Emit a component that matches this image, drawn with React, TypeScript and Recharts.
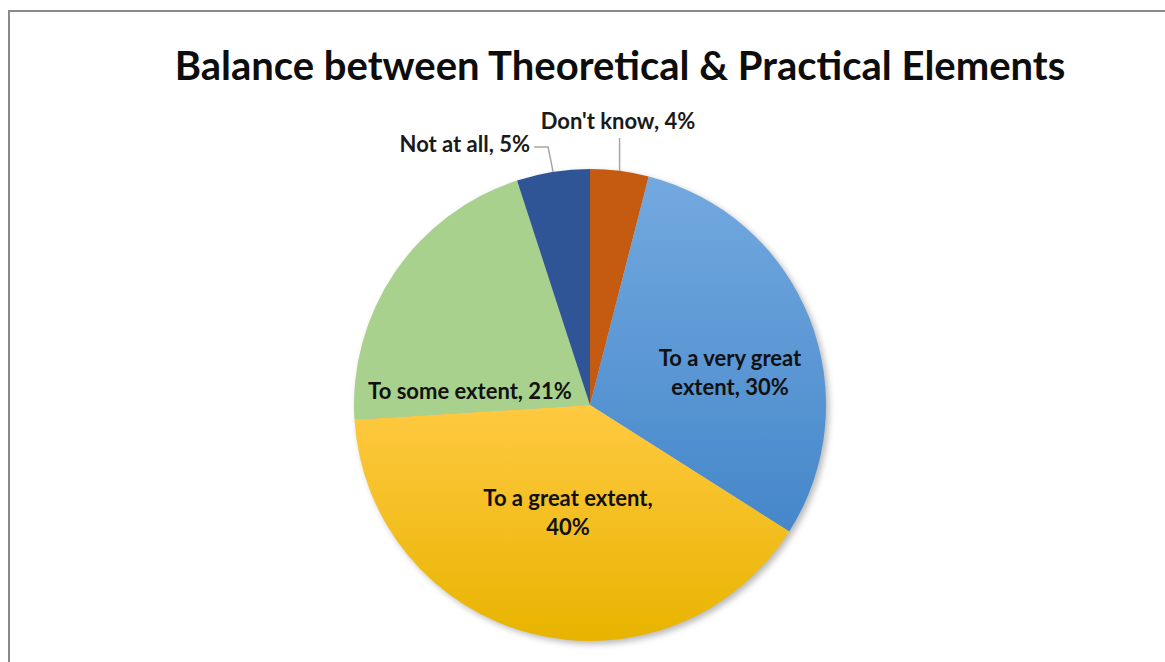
import React from 'react';
import { PieChart, Pie, Cell } from 'recharts';

// Survey answers, clockwise from 12 o'clock
const categories = [
  "Don't know",
  'To a very great extent',
  'To a great extent',
  'To some extent',
  'Not at all',
];
const shares = [4, 30, 40, 21, 5];
const fills = ['#C55A11', 'url(#gradBlue)', 'url(#gradGold)', '#A9D18E', '#2F5597'];

const data = categories.map((name, i) => ({ name, value: shares[i] }));

// where each data label goes (offset from pie centre, px) and wrap width in chars
const labelLayout: Record<string, { dx: number; dy: number; wrap: number; outside?: 'up' | 'left' }> = {
  "Don't know": { dx: 28, dy: -285, wrap: 40, outside: 'up' },
  'To a very great extent': { dx: 140, dy: -33, wrap: 15 },
  'To a great extent': { dx: -22, dy: 107, wrap: 18 },
  'To some extent': { dx: -120, dy: -15, wrap: 40 },
  'Not at all': { dx: -52, dy: -262, wrap: 40, outside: 'left' },
};

const FONT = 'Lato, "Open Sans", sans-serif';
const LABEL_SIZE = 22;
const RADIAN = Math.PI / 180;

const wrapWords = (text: string, max: number) => {
  const lines: string[] = [];
  let cur = '';
  text.split(' ').forEach(w => {
    const next = cur ? cur + ' ' + w : w;
    if (next.length > max && cur) {
      lines.push(cur);
      cur = w;
    } else {
      cur = next;
    }
  });
  if (cur) lines.push(cur);
  return lines;
};

const renderLabel = (props: any) => {
  const { cx, cy, midAngle, outerRadius, name, value } = props;
  const cfg = labelLayout[name];
  const text = `${name}, ${value}%`;
  const lines = wrapWords(text, cfg.wrap);
  const lh = 29;
  const x = cx + cfg.dx;
  const y0 = cy + cfg.dy - ((lines.length - 1) * lh) / 2;

  const ax = cx + outerRadius * Math.cos(-midAngle * RADIAN);
  const ay = cy + outerRadius * Math.sin(-midAngle * RADIAN);

  if (cfg.outside === 'up') {
    return (
      <g>
        <polyline points={`${ax},${ay} ${ax},${y0 + 18}`} fill="none" stroke="#A6A6A6" strokeWidth={1.5} />
        <text x={x} y={y0} textAnchor="middle" dominantBaseline="central" fontFamily={FONT} fontWeight={700} fontSize={LABEL_SIZE} fill="#1A1A1A">
          {text}
        </text>
      </g>
    );
  }
  if (cfg.outside === 'left') {
    return (
      <g>
        <polyline points={`${ax},${ay} ${ax - 5},${y0 + 4} ${x - 4},${y0 + 4}`} fill="none" stroke="#A6A6A6" strokeWidth={1.5} />
        <text x={x - 8} y={y0} textAnchor="end" dominantBaseline="central" fontFamily={FONT} fontWeight={700} fontSize={LABEL_SIZE} fill="#1A1A1A">
          {text}
        </text>
      </g>
    );
  }
  return (
    <text textAnchor="middle" fontFamily={FONT} fontWeight={700} fontSize={LABEL_SIZE} fill="#111">
      {lines.map((ln, i) => (
        <tspan key={i} x={x} y={y0 + i * lh} dominantBaseline="central">
          {ln}
        </tspan>
      ))}
    </text>
  );
};

export default function App() {
  return (
    <div style={{ position: 'absolute', left: 0, top: 0, width: 1165, height: 662, overflow: 'hidden', background: '#fff' }}>
      {/* chart frame, cut off at right and bottom like the screenshot */}
      <div style={{ position: 'absolute', left: 8, top: 10, width: 1300, height: 800, border: '2px solid #8A8A8A' }} />
      <div
        style={{
          position: 'absolute',
          left: 0,
          top: 40,
          width: 1240,
          textAlign: 'center',
          fontFamily: FONT,
          fontWeight: 700,
          fontSize: 40,
          color: '#0D0D0D',
          lineHeight: '50px',
        }}
      >
        Balance between Theoretical &amp; Practical Elements
      </div>
      <div style={{ position: 'absolute', left: 0, top: 0 }}>
        <PieChart width={1165} height={662} margin={{ top: 0, right: 0, bottom: 0, left: 0 }}>
          <defs>
            <linearGradient id="gradBlue" x1="0" y1="0" x2="0" y2="1">
              <stop offset="0%" stopColor="#73A9DF" />
              <stop offset="100%" stopColor="#4587CA" />
            </linearGradient>
            <linearGradient id="gradGold" x1="0" y1="0" x2="0" y2="1">
              <stop offset="0%" stopColor="#FFC941" />
              <stop offset="100%" stopColor="#E8B400" />
            </linearGradient>
            <filter id="pieShadow" x="-20%" y="-20%" width="140%" height="140%">
              <feGaussianBlur stdDeviation="3" />
            </filter>
          </defs>
          <Pie
            data={data}
            dataKey="value"
            cx={593}
            cy={408}
            outerRadius={236}
            startAngle={90}
            endAngle={-270}
            stroke="none"
            isAnimationActive={false}
            label={false}
            labelLine={false}
          >
            {data.map(d => (
              <Cell key={`s-${d.name}`} fill="rgba(0,0,0,0.28)" filter="url(#pieShadow)" />
            ))}
          </Pie>
          <Pie
            data={data}
            dataKey="value"
            cx={590}
            cy={405}
            outerRadius={236}
            startAngle={90}
            endAngle={-270}
            stroke="none"
            isAnimationActive={false}
            label={renderLabel}
            labelLine={false}
          >
            {data.map((d, i) => (
              <Cell key={d.name} fill={fills[i]} />
            ))}
          </Pie>
        </PieChart>
      </div>
    </div>
  );
}
